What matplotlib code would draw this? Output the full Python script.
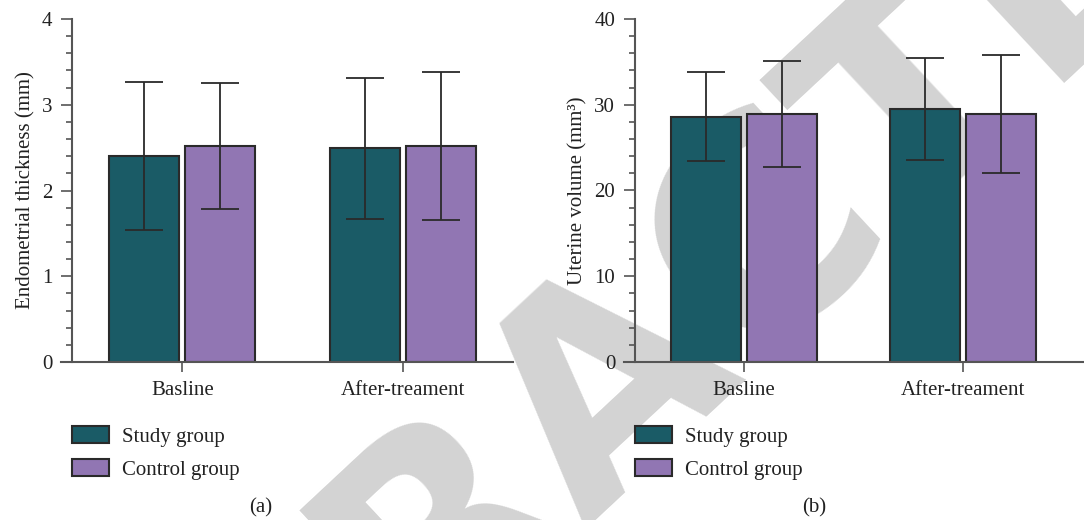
import matplotlib
matplotlib.use("Agg")
import matplotlib.pyplot as plt
import numpy as np
from matplotlib.ticker import MultipleLocator
from matplotlib.patches import Patch

categories = ["Basline", "After-treament"]
groups = ["Study group", "Control group"]

thick_study_mean = [2.40, 2.49]
thick_study_sd = [0.86, 0.82]
thick_ctrl_mean = [2.52, 2.52]
thick_ctrl_sd = [0.73, 0.86]

vol_study_mean = [28.6, 29.5]
vol_study_sd = [5.2, 5.9]
vol_ctrl_mean = [28.9, 28.9]
vol_ctrl_sd = [6.2, 6.9]

study_color = "#1a5b66"
ctrl_color = "#9176b3"

plt.rcParams['font.family'] = ['Liberation Serif', 'DejaVu Serif']

W, H = 1084, 520
fig = plt.figure(figsize=(W / 100, H / 100), dpi=100)

# watermark
fig.text(663 / W, 1 - 433 / H, "RETRACTED", fontsize=207, fontweight='bold',
         family='DejaVu Sans', color='#d3d3d3', rotation=43, ha='center',
         va='baseline', zorder=-5, rotation_mode='anchor')

FS = 15
TXT = '#222222'
AX = '#555555'

def panel(spine_px, unit_px, xmax, study_m, study_s, ctrl_m, ctrl_s, ylim, major,
          minor, ylabel, cap_px, cap_text):
    xmin = -0.55
    left_px = spine_px + (xmin + 0.5) * unit_px
    width_px = (xmax - xmin) * unit_px
    top_px, bot_px = 19, 362
    ax = fig.add_axes([left_px / W, 1 - bot_px / H, width_px / W, (bot_px - top_px) / H])
    ax.set_facecolor('none')
    x = np.arange(len(categories))
    w = 0.318
    off = 0.173
    ekw = dict(elinewidth=1.3, capthick=1.3, ecolor='#2a2a2a')
    ax.bar(x - off, study_m, w, color=study_color, edgecolor='#2a2a2a', linewidth=1.5,
           yerr=study_s, capsize=14, error_kw=ekw, zorder=2)
    ax.bar(x + off, ctrl_m, w, color=ctrl_color, edgecolor='#2a2a2a', linewidth=1.5,
           yerr=ctrl_s, capsize=14, error_kw=ekw, zorder=2)
    ax.set_xlim(xmin, xmax)
    ax.set_ylim(*ylim)
    ax.spines['left'].set_position(('data', -0.5))
    ax.spines['left'].set_bounds(*ylim)
    for s in ['top', 'right']:
        ax.spines[s].set_visible(False)
    for s in ['left', 'bottom']:
        ax.spines[s].set_color(AX)
        ax.spines[s].set_linewidth(1.5)
    ax.yaxis.set_major_locator(MultipleLocator(major))
    ax.yaxis.set_minor_locator(MultipleLocator(minor))
    ax.tick_params(axis='y', which='major', direction='out', length=8, width=1.2,
                   color=AX, labelsize=FS, pad=6, labelcolor=TXT)
    ax.tick_params(axis='y', which='minor', direction='out', length=4, width=1.2,
                   color=AX)
    ax.set_xticks(x)
    ax.set_xticklabels(categories)
    ax.tick_params(axis='x', direction='out', length=7, width=1.2, color=AX,
                   labelsize=FS, pad=7, labelcolor=TXT)
    ax.set_ylabel(ylabel, fontsize=FS, color=TXT, labelpad=5)
    handles = [Patch(facecolor=study_color, edgecolor='#2a2a2a', linewidth=1.5),
               Patch(facecolor=ctrl_color, edgecolor='#2a2a2a', linewidth=1.5)]
    ax.legend(handles, groups, loc='upper left',
              bbox_to_anchor=((spine_px - left_px) / width_px, -0.187),
              frameon=False, fontsize=FS, handlelength=1.78, handleheight=0.87,
              handletextpad=0.62, labelspacing=0.6, borderaxespad=0, borderpad=0,
              labelcolor=TXT)
    fig.text(cap_px / W, 1 - 508 / H, cap_text, fontsize=FS, ha='center', va='center',
             color=TXT)
    return ax

ax1 = panel(72, 220.5, 1.5, thick_study_mean, thick_study_sd, thick_ctrl_mean,
            thick_ctrl_sd, (0, 4), 1, 0.2, "Endometrial thickness (mm)", 261, "(a)")
ax2 = panel(634.7, 219, 1.55, vol_study_mean, vol_study_sd, vol_ctrl_mean,
            vol_ctrl_sd, (0, 40), 10, 2, "Uterine volume (mm³)", 814, "(b)")

fig.savefig("out.png", dpi=100)
